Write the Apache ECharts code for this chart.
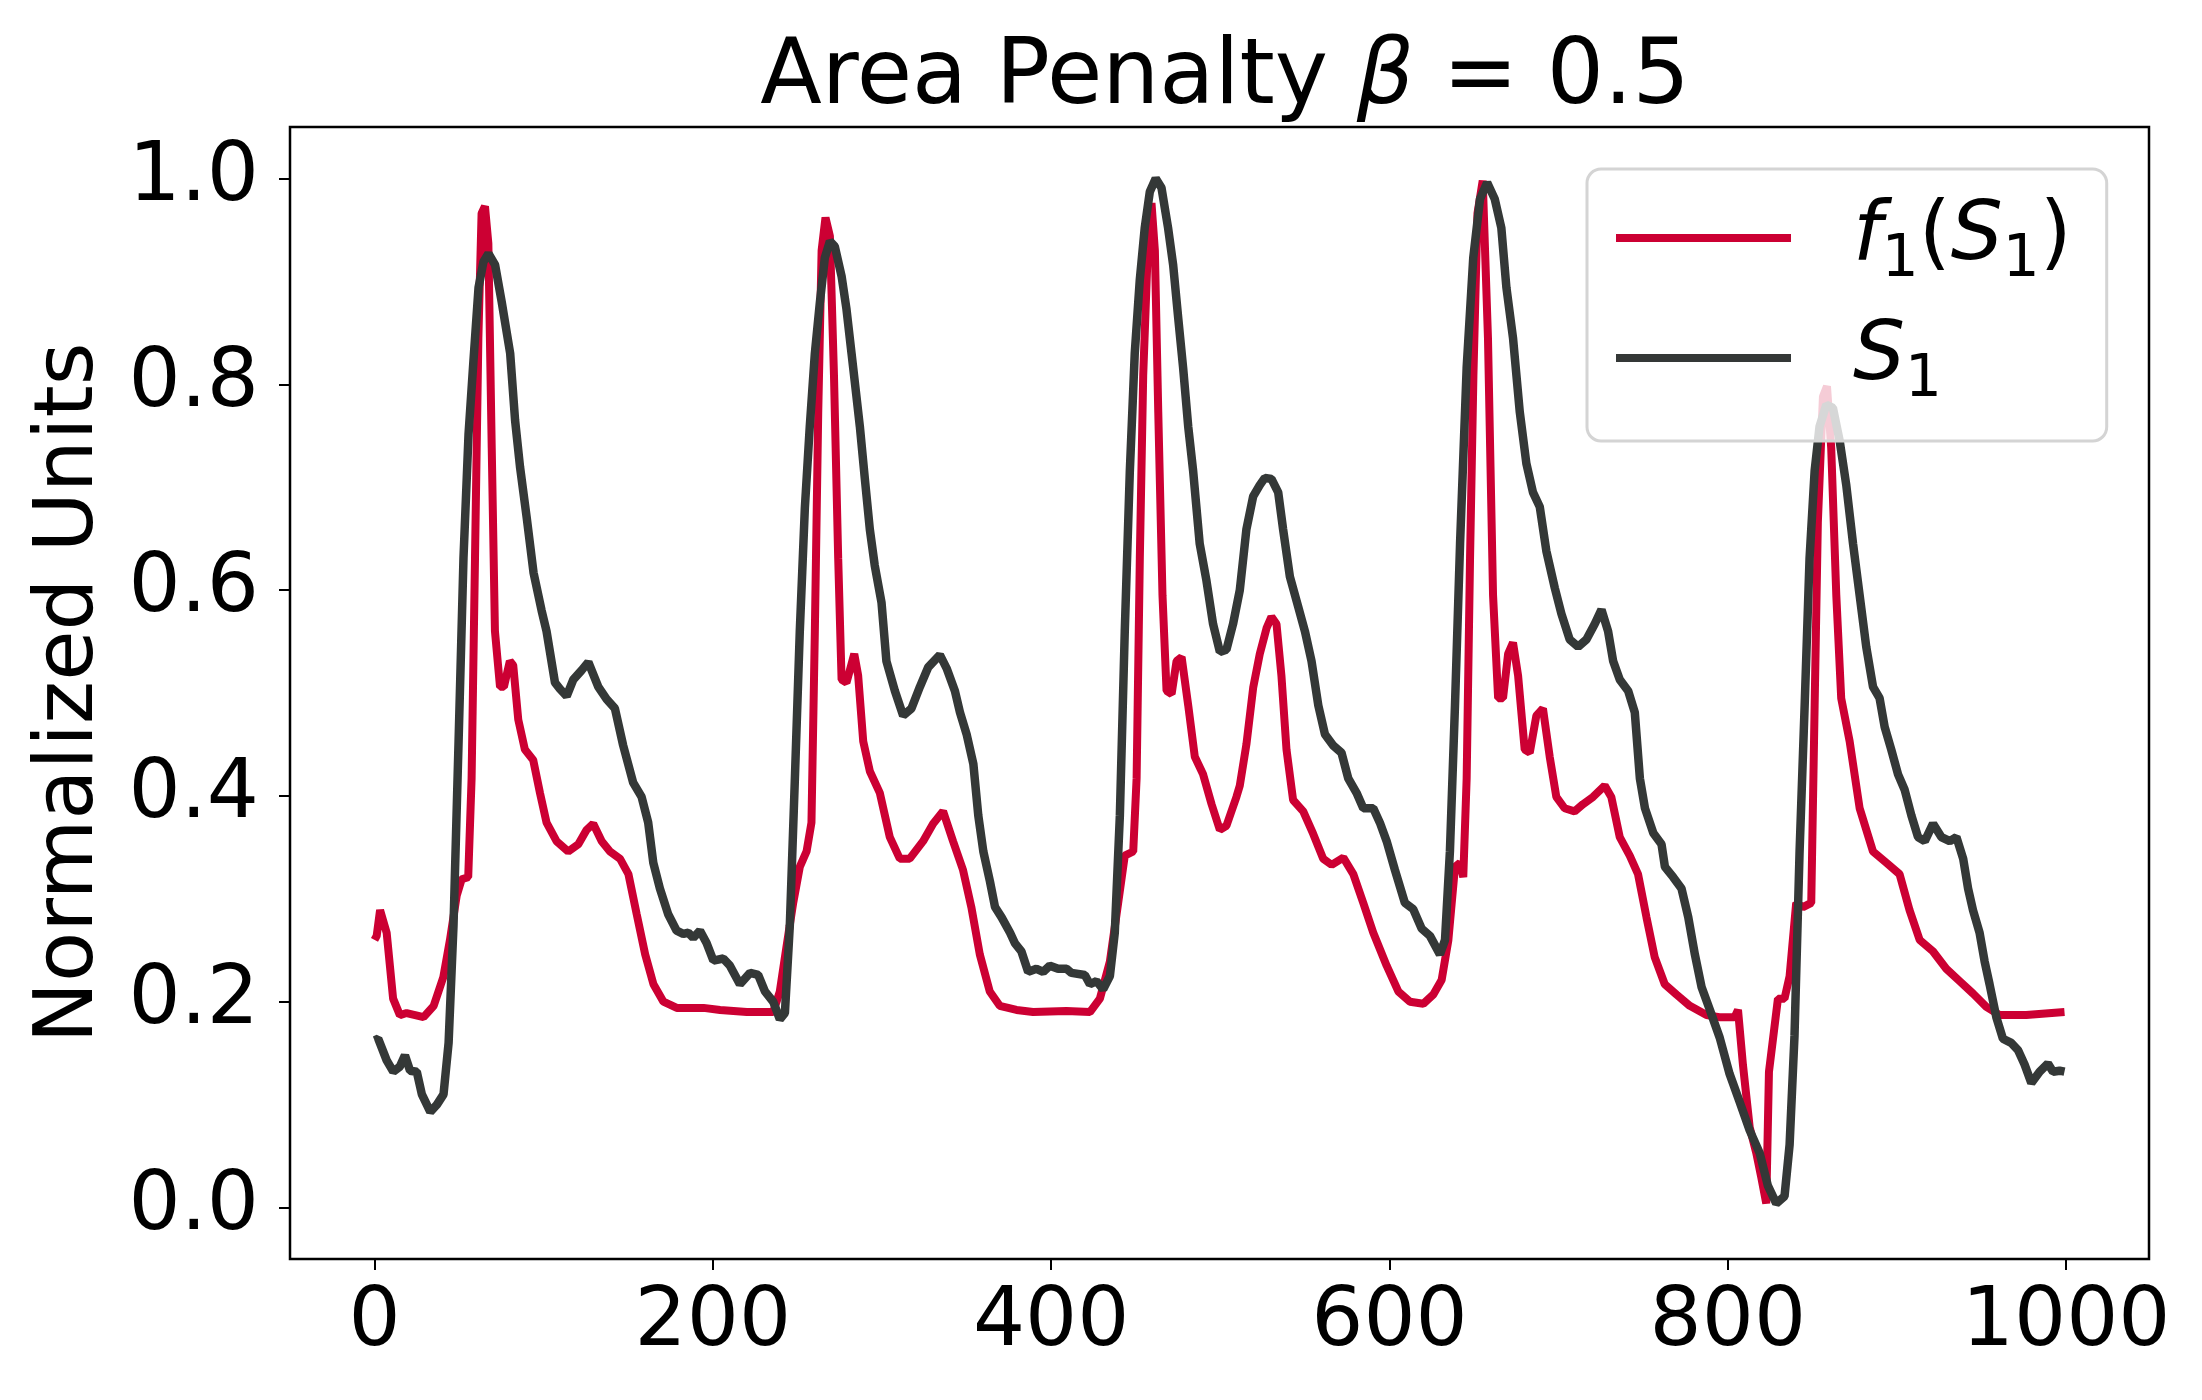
<!DOCTYPE html>
<html>
<head>
<meta charset="utf-8">
<title>Area Penalty</title>
<script src="https://cdn.jsdelivr.net/npm/echarts@6/dist/echarts.min.js"></script>
<style>
  html, body { margin: 0; padding: 0; background: #fff; }
  #chart { width: 2202px; height: 1400px; }
</style>
</head>
<body>
<div id="chart"></div>
<script>
// f1(S1) samples
const f1X = [0, 1.3, 3.3, 7.2, 11, 15, 19, 29, 35, 40.7, 44.6, 48.6, 51.5, 55.4, 57.4, 59.4, 61.4, 63.3, 65.3, 67.3,
  69.3, 71.2, 74.2, 76.5, 80, 82, 85, 88.9, 93.8, 97.8, 101.7, 107.6, 114.5, 120.5, 125.4, 129.3, 134.3, 139.2, 145.1, 150.1,
  155, 160, 164.9, 170.8, 178.7, 194.5, 204.3, 220.1, 235.7, 239.6, 243.5, 247.5, 251.4, 255.4, 258.3, 260.3, 262.3, 264.3, 266.6, 269.2,
  271.6, 274.1, 276.1, 279, 283.6, 285.9, 288.9, 292.8, 298.7, 304.6, 310.5, 316.4, 324.3, 330.2, 336.1, 342, 347.9, 352.8, 357.8, 363.7,
  369.6, 379.5, 389.3, 409, 422.9, 428.8, 434.7, 439.6, 443.5, 448.5, 450.5, 452.4, 454.4, 457.4, 459.3, 461.3, 463.3, 465.8, 468.2, 471.2,
  474.1, 477.1, 481, 484.9, 489.8, 494.8, 499.7, 503.6, 509.5, 511.5, 515.4, 519.4, 523.3, 527.3, 530.2, 533.2, 536.1, 539.1, 543, 549,
  554.9, 560.8, 565.8, 572.7, 578.6, 584.5, 590.4, 598.3, 605.2, 612.1, 620, 625.9, 630.8, 634.8, 638.7, 641.7, 643.6, 645.6, 647.6, 649.6,
  652, 655.1, 658.2, 661.2, 664.2, 667.1, 670.1, 673, 676, 679.9, 682.9, 686.8, 690.7, 694.7, 698.6, 703.5, 709.4, 714.4, 720.3, 727.2,
  731.1, 736.1, 742, 746.9, 751.9, 756.8, 762.7, 769.6, 777.5, 787.4, 795, 804, 806, 808.9, 812.9, 816.8, 819.8, 822.7, 824.3, 826.7,
  829.6, 833.5, 836.5, 840.4, 844.4, 849.3, 851.3, 853.2, 856.2, 858.6, 861.1, 864.1, 867, 872, 877.9, 885.8, 893.7, 901.5, 907.4, 913.4,
  921.2, 929.1, 937, 944.9, 952.8, 960.7, 976.4, 999];
const f1Y = [0.26, 0.264, 0.289, 0.267, 0.203, 0.187, 0.189, 0.185, 0.196, 0.224, 0.26, 0.303, 0.319, 0.321, 0.417, 0.63, 0.845, 0.966, 0.973, 0.937,
  0.738, 0.56, 0.506, 0.506, 0.531, 0.527, 0.474, 0.445, 0.435, 0.403, 0.374, 0.356, 0.346, 0.353, 0.367, 0.373, 0.356, 0.346, 0.339, 0.324,
  0.285, 0.246, 0.217, 0.2, 0.194, 0.194, 0.192, 0.19, 0.19, 0.21, 0.253, 0.296, 0.331, 0.346, 0.374, 0.56, 0.773, 0.93, 0.962, 0.944,
  0.809, 0.631, 0.513, 0.51, 0.538, 0.517, 0.453, 0.424, 0.403, 0.36, 0.339, 0.339, 0.356, 0.373, 0.385, 0.356, 0.328, 0.292, 0.246, 0.21,
  0.196, 0.192, 0.19, 0.191, 0.19, 0.203, 0.239, 0.296, 0.342, 0.346, 0.417, 0.631, 0.809, 0.944, 0.976, 0.93, 0.773, 0.595, 0.502, 0.499,
  0.531, 0.535, 0.488, 0.438, 0.421, 0.392, 0.367, 0.371, 0.399, 0.41, 0.45, 0.505, 0.538, 0.563, 0.574, 0.567, 0.517, 0.445, 0.396, 0.385,
  0.363, 0.339, 0.333, 0.34, 0.324, 0.296, 0.267, 0.235, 0.21, 0.2, 0.198, 0.207, 0.221, 0.26, 0.331, 0.335, 0.321, 0.417, 0.631, 0.809,
  0.966, 0.998, 0.845, 0.595, 0.495, 0.495, 0.538, 0.549, 0.517, 0.445, 0.442, 0.478, 0.485, 0.438, 0.399, 0.388, 0.385, 0.392, 0.399, 0.41,
  0.399, 0.36, 0.342, 0.324, 0.282, 0.243, 0.217, 0.207, 0.196, 0.187, 0.185, 0.185, 0.192, 0.139, 0.078, 0.053, 0.029, 0.004, 0.132, 0.164,
  0.203, 0.203, 0.225, 0.296, 0.292, 0.296, 0.488, 0.666, 0.788, 0.798, 0.738, 0.595, 0.495, 0.453, 0.388, 0.346, 0.335, 0.324, 0.289, 0.26,
  0.249, 0.232, 0.22, 0.208, 0.195, 0.187, 0.187, 0.19];

// S1 samples
const s1X = [0, 2.2, 7.2, 11.1, 15, 18, 21, 25, 28, 33, 36.9, 40.8, 43.8, 46.7, 49.7, 52.6, 55.6, 58.5, 61.5, 64.4,
  67.4, 71.3, 75.2, 80.2, 83.1, 86, 90, 94, 98.8, 101.7, 106.7, 109.6, 113.6, 117.5, 122.4, 126.4, 132.3, 137.2, 142.1, 147,
  152.9, 157.9, 161.8, 164.8, 168.7, 173.6, 178.6, 182.5, 185.5, 188.4, 192.4, 196.3, 200.3, 206.2, 210.1, 216, 222, 226.8, 230.8, 235.7,
  239.6, 242.6, 245.5, 248.5, 251.4, 254.4, 257.3, 260.3, 263.3, 266.2, 269.2, 272.1, 276.1, 279, 282, 284.9, 286.9, 289.8, 292.8, 295.7,
  299.7, 302.6, 307.6, 312.5, 317.4, 322.4, 327.3, 334.2, 338.2, 343.1, 346.1, 350, 354, 356.9, 359.9, 363.8, 366.8, 370.7, 375.7, 378.5,
  382.4, 386.4, 391.3, 395.3, 399.2, 404.1, 409.1, 412, 419.9, 422.9, 426.8, 430.7, 434.7, 437.6, 440.6, 443.5, 446.5, 449.4, 452.4, 455.3,
  458.3, 461.8, 465.2, 469.1, 472.1, 475, 478, 481, 483.9, 487.8, 491.8, 495.7, 499.7, 503.6, 507.5, 511.5, 515.4, 519.4, 523.3, 526.3,
  530.2, 534.2, 537.1, 541.1, 546, 550, 553.9, 557.9, 561.8, 566.7, 571.6, 575.6, 580.5, 584.5, 590.4, 594.3, 598.3, 603.2, 609.1, 614,
  619, 623.9, 629.8, 632.8, 635.7, 638.7, 641.7, 645.6, 649.5, 653.5, 657.7, 662.2, 666.1, 669.1, 673, 677, 680.9, 684.8, 688.8, 692.7,
  697.7, 701.6, 706.5, 711.5, 716.4, 721.3, 725.3, 729.2, 732.2, 736.1, 741.1, 745, 748, 751, 755.9, 760.8, 762.8, 767.7, 772.6, 776.6,
  780.5, 784.5, 789.4, 795.2, 801, 806.9, 812.9, 818.8, 823.7, 828.6, 833.5, 836.5, 839.4, 842.4, 845.4, 848.3, 851.3, 854.2, 858.2, 862.1,
  866.1, 870, 874, 877.9, 881.8, 885.8, 889.7, 892.7, 896.6, 900.6, 904.5, 908.5, 912.4, 916.4, 921.3, 926.2, 931.2, 935.1, 939.1, 942,
  944.9, 948.8, 951.8, 954.7, 958.7, 962.6, 967.5, 971.5, 975.4, 979.4, 984.3, 989.2, 992.2, 996.1, 999];
const s1Y = [0.1625, 0.164, 0.143, 0.132, 0.137, 0.148, 0.133, 0.132, 0.11, 0.093, 0.1, 0.11, 0.16, 0.274, 0.453, 0.631, 0.752, 0.823, 0.894, 0.919,
  0.927, 0.916, 0.88, 0.83, 0.765, 0.72, 0.67, 0.617, 0.58, 0.56, 0.51, 0.504, 0.497, 0.513, 0.522, 0.53, 0.506, 0.494, 0.485, 0.449,
  0.413, 0.399, 0.374, 0.335, 0.31, 0.285, 0.269, 0.266, 0.267, 0.262, 0.269, 0.257, 0.24, 0.242, 0.235, 0.217, 0.228, 0.226, 0.21, 0.2,
  0.183, 0.189, 0.274, 0.417, 0.56, 0.68, 0.759, 0.83, 0.88, 0.923, 0.939, 0.934, 0.905, 0.873, 0.83, 0.788, 0.759, 0.709, 0.659, 0.624,
  0.588, 0.531, 0.502, 0.478, 0.485, 0.506, 0.525, 0.537, 0.524, 0.502, 0.481, 0.46, 0.431, 0.381, 0.346, 0.317, 0.292, 0.282, 0.267, 0.257,
  0.249, 0.229, 0.232, 0.229, 0.235, 0.232, 0.232, 0.228, 0.226, 0.217, 0.22, 0.212, 0.225, 0.267, 0.381, 0.56, 0.716, 0.83, 0.902, 0.952,
  0.987, 1.0, 0.991, 0.952, 0.916, 0.866, 0.816, 0.759, 0.716, 0.645, 0.609, 0.567, 0.54, 0.542, 0.567, 0.6, 0.659, 0.691, 0.702, 0.709,
  0.708, 0.695, 0.659, 0.613, 0.584, 0.56, 0.531, 0.488, 0.46, 0.449, 0.442, 0.417, 0.403, 0.388, 0.388, 0.374, 0.356, 0.328, 0.296, 0.29,
  0.271, 0.264, 0.246, 0.26, 0.346, 0.488, 0.645, 0.816, 0.923, 0.98, 0.996, 0.98, 0.952, 0.894, 0.845, 0.773, 0.723, 0.695, 0.681, 0.638,
  0.602, 0.577, 0.552, 0.545, 0.552, 0.567, 0.581, 0.56, 0.531, 0.513, 0.502, 0.481, 0.417, 0.388, 0.364, 0.353, 0.331, 0.321, 0.31, 0.282,
  0.246, 0.214, 0.192, 0.165, 0.13, 0.103, 0.075, 0.053, 0.021, 0.004, 0.011, 0.061, 0.167, 0.346, 0.488, 0.631, 0.716, 0.759, 0.78, 0.777,
  0.745, 0.702, 0.645, 0.595, 0.545, 0.506, 0.495, 0.467, 0.445, 0.421, 0.406, 0.381, 0.36, 0.356, 0.373, 0.36, 0.356, 0.36, 0.339, 0.31,
  0.289, 0.267, 0.239, 0.217, 0.185, 0.164, 0.16, 0.153, 0.139, 0.121, 0.132, 0.14, 0.132, 0.133, 0.132];

const xTicks = [0, 200, 400, 600, 800, 1000];
const yTicks = [0, 0.2, 0.4, 0.6, 0.8, 1.0];

const font = "DejaVu Sans";

function pairs(xs, ys) {
  return xs.map((x, i) => [x, ys[i]]);
}

let myChart = echarts.init(document.getElementById("chart"), null, { renderer: "canvas" });

let option = {
  backgroundColor: "#fff",
  animation: false,
  title: {
    text: "Area Penalty {b|β} = 0.5",
    left: 1220,
    top: 30,
    textAlign: "center",
    textStyle: {
      fontFamily: font,
      fontSize: 90,
      fontWeight: "normal",
      color: "#000",
      rich: {
        b: { fontFamily: font, fontSize: 90, fontStyle: "italic", color: "#000" }
      }
    }
  },
  grid: {
    left: 290,
    right: 53,
    top: 127,
    bottom: 141,
    show: true,
    borderColor: "#000",
    borderWidth: 2.5,
    backgroundColor: "transparent"
  },
  legend: {
    orient: "vertical",
    left: 1587,
    top: 169,
    padding: [28, 35, 31, 29],
    itemGap: 27,
    itemWidth: 175,
    itemHeight: 8,
    icon: "rect",
    backgroundColor: "rgba(255,255,255,0.8)",
    borderColor: "#d4d4d4",
    borderWidth: 3,
    borderRadius: 14,
    data: ["f1(S1)", "S1"],
    formatter: name => name === "S1" ? "{i|S}{s|1}" : "{i|f}{s|1}{n|(}{i|S}{s|1}{n|)}",
    textStyle: {
      fontFamily: font,
      fontSize: 82,
      color: "#000",
      padding: [0, 0, 0, 57],
      rich: {
        i: { fontFamily: font, fontSize: 82, fontStyle: "italic", color: "#000" },
        n: { fontFamily: font, fontSize: 82, color: "#000" },
        s: { fontFamily: font, fontSize: 58, color: "#000", padding: [46, 0, 0, 0] }
      }
    }
  },
  xAxis: {
    type: "value",
    min: -49.95,
    max: 1048.95,
    splitLine: { show: false },
    axisLine: { show: false, onZero: false },
    axisTick: {
      show: true,
      customValues: xTicks,
      length: 11,
      lineStyle: { color: "#000", width: 2 }
    },
    axisLabel: {
      customValues: xTicks,
      margin: 24,
      fontFamily: font,
      fontSize: 82,
      color: "#000",
      formatter: v => String(v)
    }
  },
  yAxis: {
    type: "value",
    min: -0.05,
    max: 1.05,
    name: "Normalized Units",
    nameLocation: "middle",
    nameGap: 178,
    nameTextStyle: { fontFamily: font, fontSize: 82, color: "#000" },
    splitLine: { show: false },
    axisLine: { show: false, onZero: false },
    axisTick: {
      show: true,
      customValues: yTicks,
      length: 11,
      lineStyle: { color: "#000", width: 2 }
    },
    axisLabel: {
      customValues: yTicks,
      margin: 31,
      fontFamily: font,
      fontSize: 82,
      color: "#000",
      formatter: v => v.toFixed(1)
    }
  },
  series: [
    {
      name: "f1(S1)",
      type: "line",
      symbol: "none",
      showSymbol: false,
      itemStyle: { color: "#cc0033" },
      lineStyle: { color: "#cc0033", width: 8 },
      data: pairs(f1X, f1Y)
    },
    {
      name: "S1",
      type: "line",
      symbol: "none",
      showSymbol: false,
      itemStyle: { color: "#343837" },
      lineStyle: { color: "#343837", width: 8.5 },
      data: pairs(s1X, s1Y)
    }
  ]
};

myChart.setOption(option);
window.addEventListener("resize", () => {
  myChart.resize();
});
</script>
</body>
</html>
